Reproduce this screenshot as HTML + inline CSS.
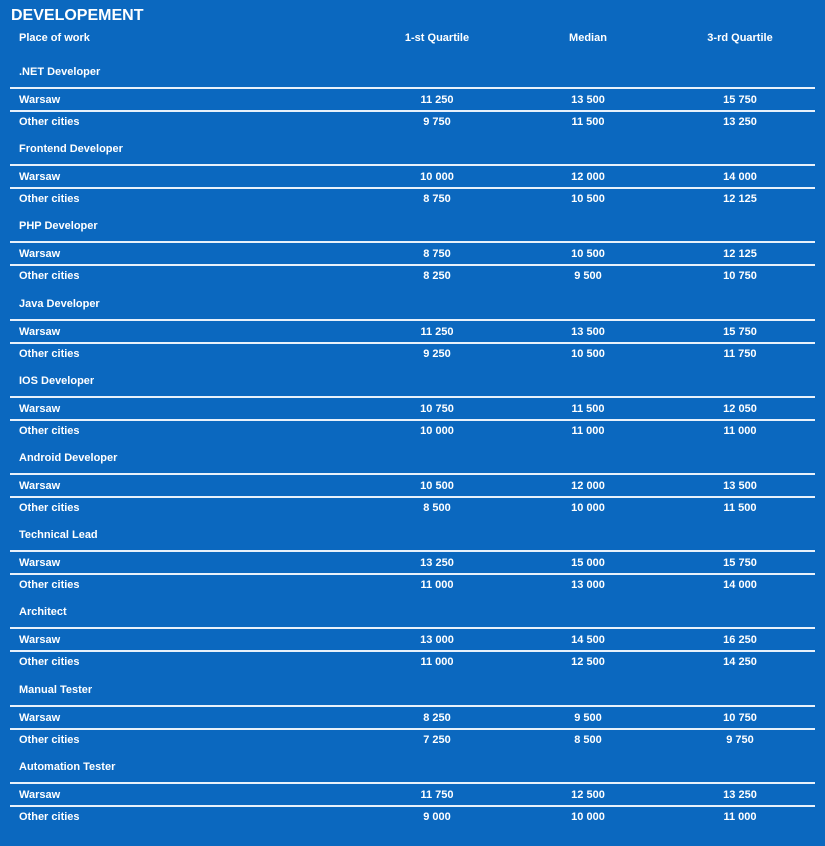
<!DOCTYPE html>
<html><head><style>
body{margin:0;width:825px;height:846px;background:#0b68bf;font-family:"Liberation Sans",sans-serif;color:#fff;font-weight:bold;position:relative;overflow:hidden}
div{position:absolute;white-space:nowrap}
.t{left:11px;top:7px;font-size:16px}
.s{font-size:11px;line-height:14px}
.l{left:19px}
.c{width:120px;text-align:center}
.c1{left:377px}.c2{left:528px}.c3{left:680px}
.hr{left:10px;width:805px;height:2px;background:#e8f1fb}
</style></head><body>
<div class="t">DEVELOPEMENT</div>
<div class="s l" style="top:31px">Place of work</div>
<div class="s c c1" style="top:31px">1-st Quartile</div>
<div class="s c c2" style="top:31px">Median</div>
<div class="s c c3" style="top:31px">3-rd Quartile</div>
<script>
var d=[[".NET Developer","11 250","13 500","15 750","9 750","11 500","13 250"],
["Frontend Developer","10 000","12 000","14 000","8 750","10 500","12 125"],
["PHP Developer","8 750","10 500","12 125","8 250","9 500","10 750"],
["Java Developer","11 250","13 500","15 750","9 250","10 500","11 750"],
["IOS Developer","10 750","11 500","12 050","10 000","11 000","11 000"],
["Android Developer","10 500","12 000","13 500","8 500","10 000","11 500"],
["Technical Lead","13 250","15 000","15 750","11 000","13 000","14 000"],
["Architect","13 000","14 500","16 250","11 000","12 500","14 250"],
["Manual Tester","8 250","9 500","10 750","7 250","8 500","9 750"],
["Automation Tester","11 750","12 500","13 250","9 000","10 000","11 000"]];
var h="";
d.forEach(function(r,i){var y=65+i*77.2;
h+='<div class="s l" style="top:'+y+'px">'+r[0]+'</div>';
h+='<div class="hr" style="top:'+(y+22)+'px"></div><div class="hr" style="top:'+(y+45)+'px"></div>';
var y1=y+28,y2=y+50;
h+='<div class="s l" style="top:'+y1+'px">Warsaw</div><div class="s l" style="top:'+y2+'px">Other cities</div>';
for(var k=0;k<3;k++){h+='<div class="s c c'+(k+1)+'" style="top:'+y1+'px">'+r[1+k]+'</div><div class="s c c'+(k+1)+'" style="top:'+y2+'px">'+r[4+k]+'</div>';}
});
document.write(h);
</script>
</body></html>
